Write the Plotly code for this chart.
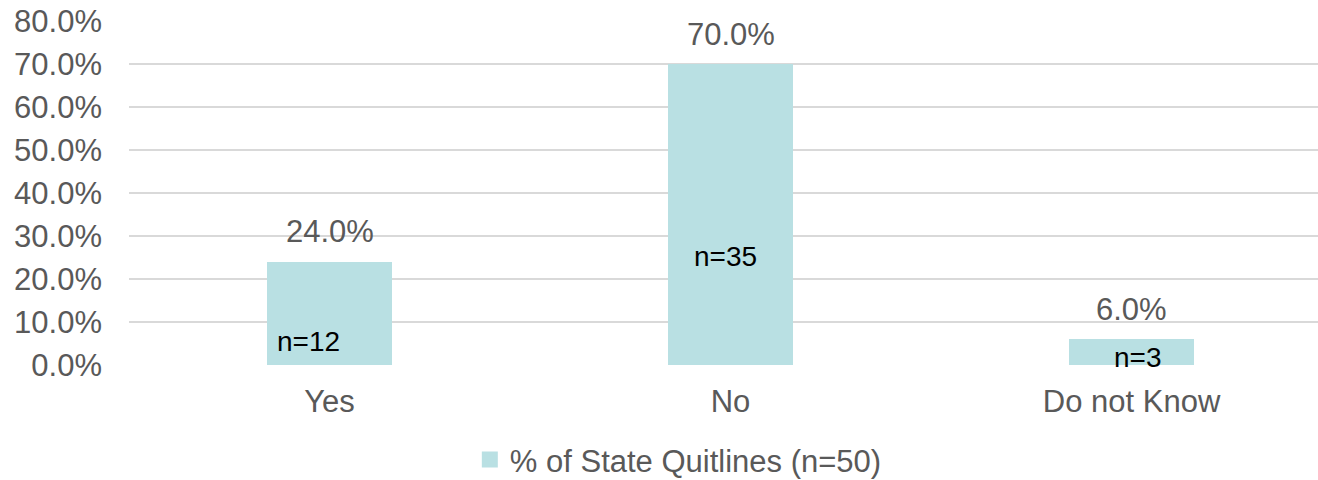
import plotly.graph_objects as go

# Survey responses
categories = ["Yes", "No", "Do not Know"]
share = [0.24, 0.70, 0.06]
counts = [12, 35, 3]
series_name = "% of State Quitlines (n=50)"

BAR_COLOR = "#b9e0e3"
TEXT_GREY = "#595959"
FONT = "Liberation Sans, Arial, sans-serif"

x_idx = list(range(len(categories)))

fig = go.Figure()
fig.add_trace(go.Bar(
    x=x_idx,
    y=share,
    width=0.314,
    marker=dict(color=BAR_COLOR, line=dict(width=0)),
    name=series_name,
    legendgroup="share",
    showlegend=False,
    hoverinfo="skip",
))
# legend key drawn as a larger square swatch
fig.add_trace(go.Scatter(
    x=[None], y=[None], mode="markers",
    marker=dict(symbol="square", size=16, color=BAR_COLOR),
    name=series_name,
    legendgroup="share",
    showlegend=True,
    hoverinfo="skip",
))

# percentage labels above each bar
for xi, v in zip(x_idx, share):
    fig.add_annotation(
        x=xi, y=v, text=f"{v * 100:.1f}%", showarrow=False,
        yanchor="middle", yshift=30,
        font=dict(family=FONT, size=31, color=TEXT_GREY),
    )

# count labels inside the bars (height as fraction, horizontal pixel nudge)
count_pos = [(0.055, -21), (0.252, -5), (0.017, 6)]
for xi, n, (ypos, dx) in zip(x_idx, counts, count_pos):
    fig.add_annotation(
        x=xi, y=ypos, text=f"n={n}", showarrow=False,
        yanchor="middle", xshift=dx,
        font=dict(family=FONT, size=28, color="#000000"),
    )

fig.update_layout(
    width=1318, height=480,
    margin=dict(l=129, r=0, t=21, b=115, autoexpand=False),
    paper_bgcolor="white",
    plot_bgcolor="white",
    font=dict(family=FONT, size=31, color=TEXT_GREY),
    bargap=0,
    legend=dict(
        orientation="h", x=0.462, xanchor="center",
        y=-0.276, yanchor="middle",
        font=dict(family=FONT, size=31, color=TEXT_GREY),
        bgcolor="rgba(0,0,0,0)",
        itemsizing="trace",
    ),
    xaxis=dict(
        tickmode="array", tickvals=x_idx, ticktext=categories,
        range=[-0.5, 2.465],
        showgrid=False, zeroline=False, showline=False, ticks="",
        tickfont=dict(family=FONT, size=31, color=TEXT_GREY),
        ticklabelstandoff=15,
    ),
    yaxis=dict(
        range=[0, 0.8], dtick=0.1, tickformat=".1%",
        showgrid=True, gridcolor="#d9d9d9", gridwidth=1.5,
        zeroline=False, showline=False, ticks="",
        tickfont=dict(family=FONT, size=31, color=TEXT_GREY),
        ticklabelstandoff=26,
    ),
)

fig.write_html("out.html")
